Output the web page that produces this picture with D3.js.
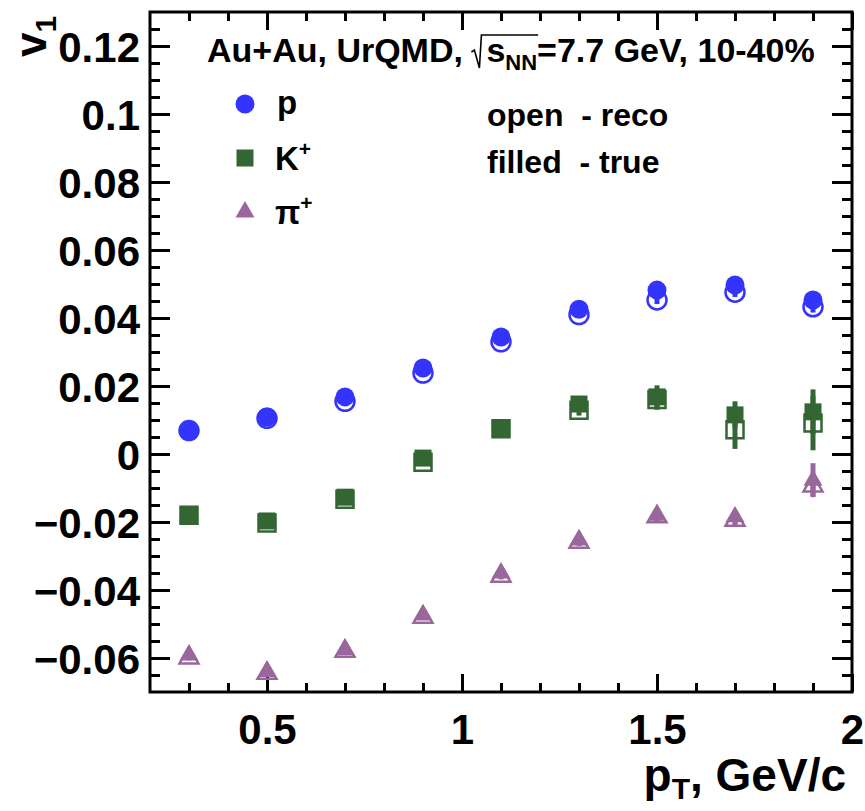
<!DOCTYPE html>
<html>
<head>
<meta charset="utf-8">
<script src="https://cdn.jsdelivr.net/npm/d3@7"></script>
<style>
  html, body { margin: 0; padding: 0; background: #fff; }
  svg { display: block; }
  text { font-family: "Liberation Sans", Arial, Helvetica, sans-serif; font-weight: bold; fill: #000; white-space: pre; }
</style>
</head>
<body>
<svg id="chart" width="865" height="811"></svg>
<script>
// ---------------- data ----------------
const ptBins = [0.3, 0.5, 0.7, 0.9, 1.1, 1.3, 1.5, 1.7, 1.9];

const protonTrue   = [0.0071, 0.0109, 0.0168, 0.0253, 0.0344, 0.0426, 0.0482, 0.0497, 0.0453];
const protonReco   = [0.0069, 0.0105, 0.0155, 0.0238, 0.0330, 0.0410, 0.0453, 0.0476, 0.0433];
const protonTrueErr = [0.0005, 0.0005, 0.0006, 0.0007, 0.0008, 0.0010, 0.0012, 0.0014, 0.0017];
const protonRecoErr = [0.0005, 0.0005, 0.0006, 0.0007, 0.0008, 0.0010, 0.0012, 0.0014, 0.0017];

const kaonTrue   = [-0.0179, -0.0197, -0.0127, -0.0012, 0.0076, 0.0147, 0.0168, 0.0115, 0.0124];
const kaonReco   = [-0.0180, -0.0203, -0.0133, -0.0024, 0.0074, 0.0129, 0.0160, 0.0071, 0.0091];
const kaonTrueErr = [0.0008, 0.0008, 0.0009, 0.0010, 0.0012, 0.0016, 0.0034, 0.0040, 0.0066];
const kaonRecoErr = [0.0008, 0.0008, 0.0009, 0.0010, 0.0012, 0.0016, 0.0030, 0.0056, 0.0080];

const pionTrue   = [-0.0591, -0.0640, -0.0576, -0.0474, -0.0350, -0.0253, -0.0180, -0.0185, -0.0077];
const pionReco   = [-0.0600, -0.0645, -0.0580, -0.0480, -0.0360, -0.0260, -0.0185, -0.0195, -0.0094];
const pionTrueErr = [0.0007, 0.0007, 0.0007, 0.0008, 0.0009, 0.0011, 0.0014, 0.0020, 0.0050];
const pionRecoErr = [0.0007, 0.0007, 0.0007, 0.0008, 0.0009, 0.0011, 0.0014, 0.0020, 0.0030];

const xTickLabels = [0.5, 1, 1.5, 2];
const yTickLabels = [-0.06, -0.04, -0.02, 0, 0.02, 0.04, 0.06, 0.08, 0.1, 0.12];

const legendNames = ["p", "K", "π"];
const colors = { p: "#3434ff", k: "#336633", pi: "#9a679c" };

// ---------------- layout ----------------
const svg = d3.select("#chart");
svg.append("rect").attr("width", 865).attr("height", 811).attr("fill", "#fff");

const L = 150, R = 852, T = 12, B = 692;
const x = d3.scaleLinear().domain([0.2, 2]).range([L, R]);
const y = d3.scaleLinear().domain([-0.07, 0.13]).range([B, T]);

const fontTick = 42;

const xMinor = d3.range(3, 21).map(d => d / 10).filter(v => !xTickLabels.some(t => Math.abs(t - v) < 1e-9));
const yMinor = d3.range(-13, 26).map(d => d * 0.005).filter(v => !yTickLabels.some(t => Math.abs(t - v) < 1e-9));

function styleAxis(g) {
  g.select(".domain").remove();
  g.selectAll(".tick line").attr("stroke", "#000").attr("stroke-width", 3);
}
function styleLabels(g) {
  g.selectAll(".tick text").attr("font-size", fontTick)
    .attr("font-family", "Liberation Sans, Arial, sans-serif")
    .attr("font-weight", "bold").attr("fill", "#000");
}

// bottom axis
const gxB = svg.append("g").attr("transform", `translate(0,${B})`)
  .call(d3.axisBottom(x).tickValues(xTickLabels).tickSize(-18).tickPadding(22)
        .tickFormat(d => String(d)));
styleAxis(gxB); styleLabels(gxB);
svg.append("g").attr("transform", `translate(0,${B})`)
  .call(d3.axisBottom(x).tickValues(xMinor).tickSize(-9).tickFormat(""))
  .call(styleAxis);
// top axis
svg.append("g").attr("transform", `translate(0,${T})`)
  .call(d3.axisTop(x).tickValues(xTickLabels).tickSize(-18).tickFormat(""))
  .call(styleAxis);
svg.append("g").attr("transform", `translate(0,${T})`)
  .call(d3.axisTop(x).tickValues(xMinor).tickSize(-9).tickFormat(""))
  .call(styleAxis);

// left axis
const fmtY = d => d === 0 ? "0" : (d < 0 ? "\u2212" : "") + String(+Math.abs(d).toFixed(2));
const gyL = svg.append("g").attr("transform", `translate(${L},0)`)
  .call(d3.axisLeft(y).tickValues(yTickLabels).tickSize(-20).tickPadding(10).tickFormat(fmtY));
styleAxis(gyL); styleLabels(gyL);
gyL.selectAll(".tick text").attr("dy", "0.36em");
svg.append("g").attr("transform", `translate(${L},0)`)
  .call(d3.axisLeft(y).tickValues(yMinor).tickSize(-10).tickFormat(""))
  .call(styleAxis);
// right axis
svg.append("g").attr("transform", `translate(${R},0)`)
  .call(d3.axisRight(y).tickValues(yTickLabels).tickSize(-20).tickFormat(""))
  .call(styleAxis);
svg.append("g").attr("transform", `translate(${R},0)`)
  .call(d3.axisRight(y).tickValues(yMinor).tickSize(-10).tickFormat(""))
  .call(styleAxis);

// frame
svg.append("rect").attr("x", L).attr("y", T).attr("width", R - L).attr("height", B - T)
  .attr("fill", "none").attr("stroke", "#000").attr("stroke-width", 3);

// ---------------- data marks ----------------
const symCircle = d3.symbol().type(d3.symbolCircle).size(Math.PI * 9.5 * 9.5);
const symSquare = d3.symbol().type(d3.symbolSquare).size(17 * 17);
const symTri = d3.symbol().type(d3.symbolTriangle).size(155);

const series = [
  { vals: pionTrue, errs: pionTrueErr, sym: symTri, color: colors.pi, open: false },
  { vals: pionReco, errs: pionRecoErr, sym: symTri, color: colors.pi, open: true },
  { vals: kaonTrue, errs: kaonTrueErr, sym: symSquare, color: colors.k, open: false },
  { vals: kaonReco, errs: kaonRecoErr, sym: symSquare, color: colors.k, open: true },
  { vals: protonTrue, errs: protonTrueErr, sym: symCircle, color: colors.p, open: false },
  { vals: protonReco, errs: protonRecoErr, sym: symCircle, color: colors.p, open: true }
];

series.forEach(s => {
  const g = svg.append("g");
  const pts = ptBins.map((pt, i) => ({ pt, v: s.vals[i], e: s.errs[i] }));
  g.selectAll("line.err").data(pts).join("line")
    .attr("x1", d => x(d.pt)).attr("x2", d => x(d.pt))
    .attr("y1", d => y(d.v - d.e)).attr("y2", d => y(d.v + d.e))
    .attr("stroke", s.color).attr("stroke-width", 5);
  g.selectAll("path.mk").data(pts).join("path")
    .attr("transform", d => `translate(${x(d.pt)},${y(d.v)})`)
    .attr("d", s.sym)
    .attr("fill", s.open ? "none" : s.color)
    .attr("stroke", s.color)
    .attr("stroke-width", s.open ? 2.5 : 0);
});

// ---------------- texts ----------------
// title with drawn radical
const title = svg.append("text").attr("x", 207).attr("y", 62).attr("font-size", 34);
const prefix = "Au+Au, UrQMD, ";
title.append("tspan").text(prefix);
title.append("tspan").attr("dx", 14).text("s");
title.append("tspan").attr("font-size", 22).attr("dy", 8).text("NN");
title.append("tspan").attr("dy", -8).text("=7.7 GeV, 10-40%");
{
  const node = title.node();
  const n = prefix.length;
  const sPos = node.getStartPositionOfChar(n);
  const nnEnd = node.getEndPositionOfChar(n + 2);
  const by = 62, top = 35;
  const xs = sPos.x;
  svg.append("path")
    .attr("d", `M${xs - 15},${by - 10} L${xs - 12},${by - 12} L${xs - 7},${by + 6} L${xs - 5},${top} L${nnEnd.x + 1},${top}`)
    .attr("fill", "none").attr("stroke", "#000").attr("stroke-width", 1.6);
}

// legend
const legY = [104, 158, 212];
const legSyms = [symCircle, symSquare, symTri];
const legCols = [colors.p, colors.k, colors.pi];
legY.forEach((ly, i) => {
  svg.append("path").attr("transform", `translate(245,${ly})`).attr("d", legSyms[i]).attr("fill", legCols[i]);
});
svg.append("text").attr("x", 277).attr("y", 114).attr("font-size", 33).text(legendNames[0]);
const kt = svg.append("text").attr("x", 275).attr("y", 170).attr("font-size", 33);
kt.append("tspan").text(legendNames[1]);
kt.append("tspan").attr("font-size", 21).attr("dy", -14).text("+");
const pt = svg.append("text").attr("x", 275).attr("y", 224).attr("font-size", 33);
pt.append("tspan").text(legendNames[2]);
pt.append("tspan").attr("font-size", 21).attr("dy", -14).text("+");

svg.append("text").attr("x", 487).attr("y", 126).attr("font-size", 32).text("open  - reco");
svg.append("text").attr("x", 487).attr("y", 173).attr("font-size", 32).text("filled  - true");

// axis titles
const xt = svg.append("text").attr("x", 846).attr("y", 791).attr("font-size", 46).attr("text-anchor", "end");
xt.append("tspan").text("p");
xt.append("tspan").attr("font-size", 30).attr("dy", 8).text("T");
xt.append("tspan").attr("dy", -8).text(", GeV/c");

const yt = svg.append("text").attr("transform", "translate(46,57) rotate(-90)").attr("font-size", 44);
yt.append("tspan").text("v");
yt.append("tspan").attr("font-size", 30).attr("dy", 10).text("1");
</script>
</body>
</html>
